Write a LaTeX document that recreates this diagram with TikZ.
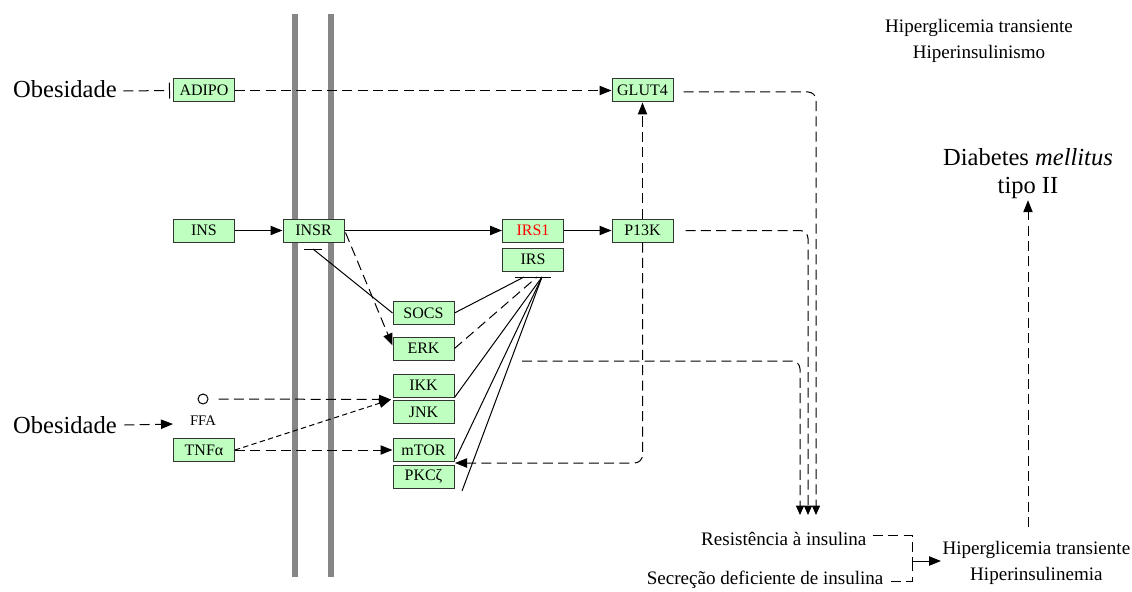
\documentclass[tikz,border=0pt]{standalone}
\usepackage{fontspec}
\setmainfont{Liberation Serif}
\usetikzlibrary{arrows.meta,calc}
\definecolor{genefill}{RGB}{191,255,191}
\definecolor{membrane}{RGB}{134,134,134}
\begin{document}
\begin{tikzpicture}[x=0.75pt,y=-0.75pt,
  gene/.style={draw=black!80, fill=genefill, line width=0.75pt,
    minimum width=45.75pt, minimum height=17.25pt, inner sep=0pt,
    font=\fontsize{12}{12}\selectfont},
  big/.style={inner sep=1pt, font=\fontsize{18.4}{21}\selectfont, align=center},
  mid/.style={inner sep=1pt, font=\fontsize{14.3}{19}\selectfont, align=center},
  link/.style={line width=0.75pt, black},
  kdash/.style={link, dash pattern=on 7.5pt off 4pt},
  fdash/.style={link, dash pattern=on 4pt off 2.5pt},
  arr/.style={-{Triangle[length=9pt,width=7pt]}},
  arrs/.style={-{Triangle[length=7pt,width=6pt]}},
  tbar/.style={link, -{Bar[width=12pt]}},
  memb/.style={membrane, line width=4.5pt}]
\useasboundingbox (0,0) rectangle (1132,592);

% cell membrane
\draw[memb] (295,14) -- (295,577);
\draw[memb] (330.5,14) -- (330.5,577);

% gene products
\node[gene] (adipo) at (204,90.5) {ADIPO};
\node[gene] (glut4) at (642.5,90.5) {GLUT4};
\node[gene] (ins)   at (204,230.5) {INS};
\node[gene] (insr)  at (313.5,230.5) {INSR};
\node[gene, text=red] (irs1) at (533,230.5) {IRS1};
\node[gene] (irs)   at (533,259.5) {IRS};
\node[gene] (p13k)  at (642.5,230.5) {P13K};
\node[gene] (socs)  at (423.5,313) {SOCS};
\node[gene] (erk)   at (423.5,348.5) {ERK};
\node[gene] (ikk)   at (423.5,385.5) {IKK};
\node[gene] (jnk)   at (423.5,412) {JNK};
\node[gene] (mtor)  at (423.5,450) {mTOR};
\node[gene] (pkc)   at (423.5,476.5) {PKCζ};
\node[gene] (tnf)   at (204,450) {TNFα};

% compound
\node[draw, circle, line width=0.75pt, minimum size=7.5pt, inner sep=0pt] (ffa) at (203,399) {};
\node[inner sep=0pt, font=\fontsize{11}{11}\selectfont] (ffalbl) at (203,421) {FFA};

% labels
\node[big] (obes1) at (65,89) {Obesidade};
\node[big] (obes2) at (65,425) {Obesidade};
\node[mid] (hiper1) at (979,41) {Hiperglicemia transiente\\Hiperinsulinismo};
\node[big] (dm) at (1028,173.5) {Diabetes \textit{mellitus}\\tipo II};
\node[mid, anchor=east] (res) at (868,539) {Resistência à insulina};
\node[mid, anchor=east] (sec) at (885,580) {Secreção deficiente de insulina};
\node[mid, anchor=west] (hiper2) at (941,563) {Hiperglicemia transiente\\Hiperinsulinemia};

% helper points
\coordinate (obesend) at (173,424);
\coordinate (insrbar) at (313,249);
\coordinate (irsA) at (524,277);
\coordinate (irsB) at (537,277);
\coordinate (irsC) at (542,277);
\coordinate (ikkjnk) at (391,399.5);
\coordinate (mtorpkc) at (455,463);
\coordinate (pkcfoot) at (462,491);
\coordinate (hstart) at (522,361);
\coordinate (t1) at (800,515);
\coordinate (t2) at (808,515);
\coordinate (t3) at (816,515);
\coordinate (jn) at (912,561);
\coordinate (dmfoot) at (1028,527);

% inhibition bars
\draw[link] (304,249) -- (322,249);
\draw[link] (515,277) -- (551,277);

% top row
\draw[tbar, kdash] ($(obes1.east)+(5,2)$) -- ($(adipo.west)+(-3,0)$);
\draw[kdash, arr] (adipo) -- (glut4);
\draw[kdash, arrs, rounded corners=6pt] ($(glut4.east)+(10,1.5)$) -| (t3);

% insulin signalling
\draw[link, arr] (ins) -- (insr);
\draw[link, arr] (insr) -- (irs1);
\draw[link, arr] (irs1) -- (p13k);
\draw[kdash, arr] (p13k) -- (glut4);
\draw[kdash, arr, rounded corners=6pt] (p13k.south) |- (mtorpkc);
\draw[kdash, arrs, rounded corners=6pt] ($(p13k.east)+(12,0)$) -| (t2);
\draw[kdash, arrs, rounded corners=6pt] (hstart) -| (t1);

% feedback on the receptor and its substrate
\draw[link] (socs.west) -- (insrbar);
\draw[kdash, arr] ($(insr.east)+(1,2)$) -- ($(erk.west)+(0,-3)$);
\draw[link] (socs.east) -- (irsA);
\draw[kdash] (erk.east) -- (irsB);
\draw[link] (ikk.south east) -- (irsC);
\draw[link] ($(mtor.south east)+(1,-3)$) -- (irsC);
\draw[link] (pkcfoot) -- (irsC);

% inflammatory inputs
\draw[kdash, arr] ($(obes2.east)+(6,0)$) -- (obesend);
\draw[kdash, arr] ($(ffa.east)+(10,0)$) -- (ikkjnk);
\draw[fdash, arr] (tnf.east) -- (ikkjnk);
\draw[kdash, arr] (tnf.east) -- (mtor.west);

% outcome
\draw[kdash] ($(res.east)+(5,-4)$) -| (jn);
\draw[kdash] ($(sec.east)+(6,1)$) -| (jn);
\draw[link, arr] (jn) -- (jn -| hiper2.west);
\draw[kdash, arr] (dmfoot) -- (dm.south);
\end{tikzpicture}
\end{document}
